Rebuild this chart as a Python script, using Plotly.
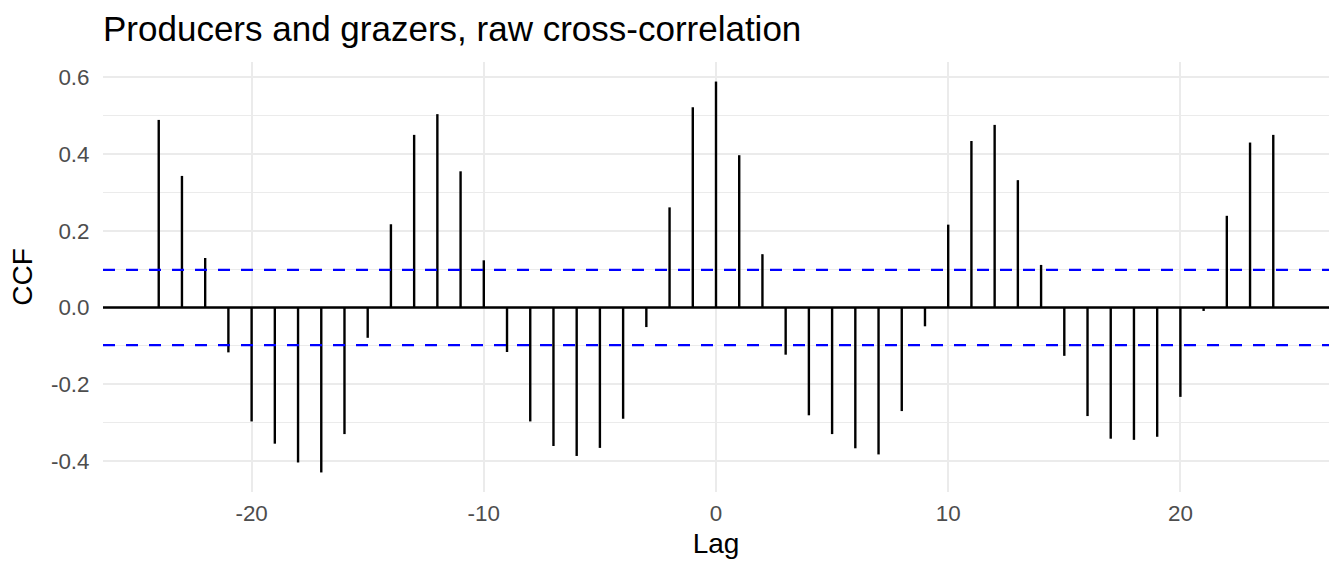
import plotly.graph_objects as go

# cross-correlation of producers vs grazers
lags = list(range(-24, 25))
ccf = [0.489, 0.343, 0.129, -0.117, -0.297, -0.355, -0.404, -0.430, -0.330, -0.079,
       0.217, 0.450, 0.504, 0.355, 0.123, -0.116, -0.297, -0.361, -0.387, -0.366,
       -0.290, -0.051, 0.261, 0.522, 0.589, 0.397, 0.139, -0.123, -0.281, -0.330,
       -0.367, -0.383, -0.270, -0.049, 0.216, 0.434, 0.476, 0.332, 0.111, -0.126,
       -0.283, -0.342, -0.345, -0.337, -0.233, -0.009, 0.239, 0.430, 0.450]
conf = 0.098  # significance bound (+/-)

x_ticks = [-20, -10, 0, 10, 20]
x_labels = ['-20', '-10', '0', '10', '20']
y_ticks = [-0.4, -0.2, 0.0, 0.2, 0.4, 0.6]
y_labels = ['-0.4', '-0.2', '0.0', '0.2', '0.4', '0.6']

font = 'Liberation Sans, Arial, Helvetica, sans-serif'
grid = '#EBEBEB'

# vertical segments from 0 to each value
seg_x, seg_y = [], []
for lg, v in zip(lags, ccf):
    seg_x += [lg, lg, None]
    seg_y += [0, v, None]

# ggplot-style 5% expansion of the data range
xpad = 0.05 * (max(lags) - min(lags))
ypad = 0.05 * (max(ccf) - min(ccf))

fig = go.Figure()
fig.add_trace(go.Scatter(x=seg_x, y=seg_y, mode='lines', line=dict(color='black', width=2.4),
                         hoverinfo='skip', showlegend=False))

fig.add_hline(y=0, line=dict(color='black', width=2.4))
for yy in (conf, -conf):
    fig.add_hline(y=yy, line=dict(color='blue', width=2.2, dash='12px,11px'))

fig.update_layout(
    width=1344, height=576,
    margin=dict(l=103, r=15, t=62, b=84),
    plot_bgcolor='white', paper_bgcolor='white',
    font=dict(family=font, color='black'),
    title=dict(text='Producers and grazers, raw cross-correlation', x=103 / 1344, xanchor='left',
               xref='container', y=1 - 29 / 576, yanchor='middle', yref='container',
               font=dict(size=35, color='black')),
    xaxis=dict(range=[min(lags) - xpad, max(lags) + xpad], tickvals=x_ticks, ticktext=x_labels,
               showgrid=True, gridcolor=grid, gridwidth=2, zeroline=False, showline=False,
               ticks='outside', ticklen=1, tickcolor='rgba(0,0,0,0)',
               tickfont=dict(size=22.4, color='#4D4D4D'),
               title=dict(text='Lag', font=dict(size=28, color='black'), standoff=8)),
    yaxis=dict(range=[min(ccf) - ypad, max(ccf) + ypad], tickvals=y_ticks, ticktext=y_labels,
               showgrid=True, gridcolor=grid, gridwidth=2, zeroline=False, showline=False,
               ticks='outside', ticklen=8, tickcolor='rgba(0,0,0,0)',
               tickfont=dict(size=22.4, color='#4D4D4D'),
               minor=dict(dtick=0.1, tick0=0, showgrid=True, gridcolor=grid, gridwidth=1),
               title=dict(text='CCF', font=dict(size=28, color='black'), standoff=10)),
)

# drop the browser's default body margin so the figure sits at the window origin
fig.write_html('out.html', config={'displayModeBar': False},
               post_script="document.body.style.margin='0';")
